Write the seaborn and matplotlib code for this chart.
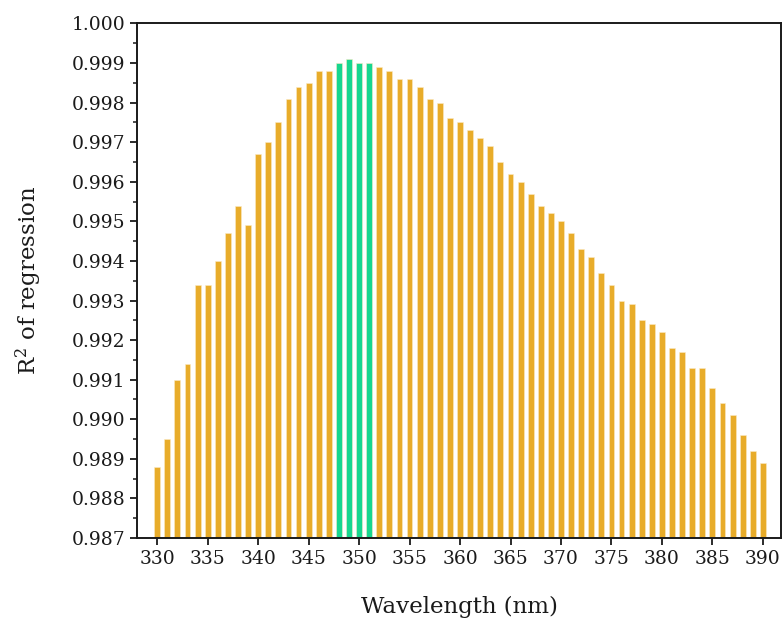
import numpy as np
import pandas as pd
import matplotlib
matplotlib.use("Agg")
import matplotlib.pyplot as plt
import seaborn as sns
from matplotlib.ticker import MultipleLocator, FormatStrFormatter

# wavelengths (nm) and R^2
wavelength = list(range(330, 391))
r2 = [
    0.9888, 0.9895, 0.9910, 0.9914, 0.9934, 0.9934, 0.9940, 0.9947, 0.9954, 0.9949,
    0.9967, 0.9970, 0.9975, 0.9981, 0.9984, 0.9985, 0.9988, 0.9988, 0.9990, 0.9991,
    0.9990, 0.9990, 0.9989, 0.9988, 0.9986, 0.9986, 0.9984, 0.9981, 0.9980, 0.9976,
    0.9975, 0.9973, 0.9971, 0.9969, 0.9965, 0.9962, 0.9960, 0.9957, 0.9954, 0.9952,
    0.9950, 0.9947, 0.9943, 0.9941, 0.9937, 0.9934, 0.9930, 0.9929, 0.9925, 0.9924,
    0.9922, 0.9918, 0.9917, 0.9913, 0.9913, 0.9908, 0.9904, 0.9901, 0.9896, 0.9892,
    0.9889,
]
best_range = [348, 349, 350, 351]

df = pd.DataFrame({"wl": wavelength, "r2": r2})
df["grp"] = np.where(df["wl"].isin(best_range), "best", "other")

sns.set_style("ticks")
plt.rcParams["font.family"] = ["DejaVu Serif"]
plt.rcParams["mathtext.default"] = "regular"

fig = plt.figure(figsize=(7.83, 6.21), dpi=100)
ax = fig.add_axes([0.175, 0.1337, 0.8225, 0.8285])

sns.barplot(data=df, x="wl", y="r2", hue="grp", native_scale=True, dodge=False,
            palette={"other": "#E8AC2A", "best": "#17D68F"}, saturation=1,
            width=0.58, edgecolor="#FBE9C4", linewidth=0.4, legend=False, ax=ax)

ax.set_xlim(328.0, 391.8)
ax.set_ylim(0.987, 1.000)
ax.xaxis.set_major_locator(MultipleLocator(5))
ax.yaxis.set_major_locator(MultipleLocator(0.001))
ax.yaxis.set_minor_locator(MultipleLocator(0.0005))
ax.yaxis.set_major_formatter(FormatStrFormatter("%.3f"))

for s in ax.spines.values():
    s.set_visible(True)
    s.set_color("#1a1a1a")
    s.set_linewidth(1.4)

ax.tick_params(axis="both", which="major", length=5, width=1.3, labelsize=13.5,
               colors="#1a1a1a", direction="out")
ax.tick_params(axis="y", which="minor", length=3, width=1.1, direction="out",
               colors="#1a1a1a")
ax.tick_params(top=False, right=False)

ax.set_xlabel("Wavelength (nm)", fontsize=16.5, labelpad=20, color="#1a1a1a")
ax.set_ylabel(r"R$^{2}$ of regression", fontsize=16.5, labelpad=20, color="#1a1a1a")

fig.savefig("out.png", dpi=100)
